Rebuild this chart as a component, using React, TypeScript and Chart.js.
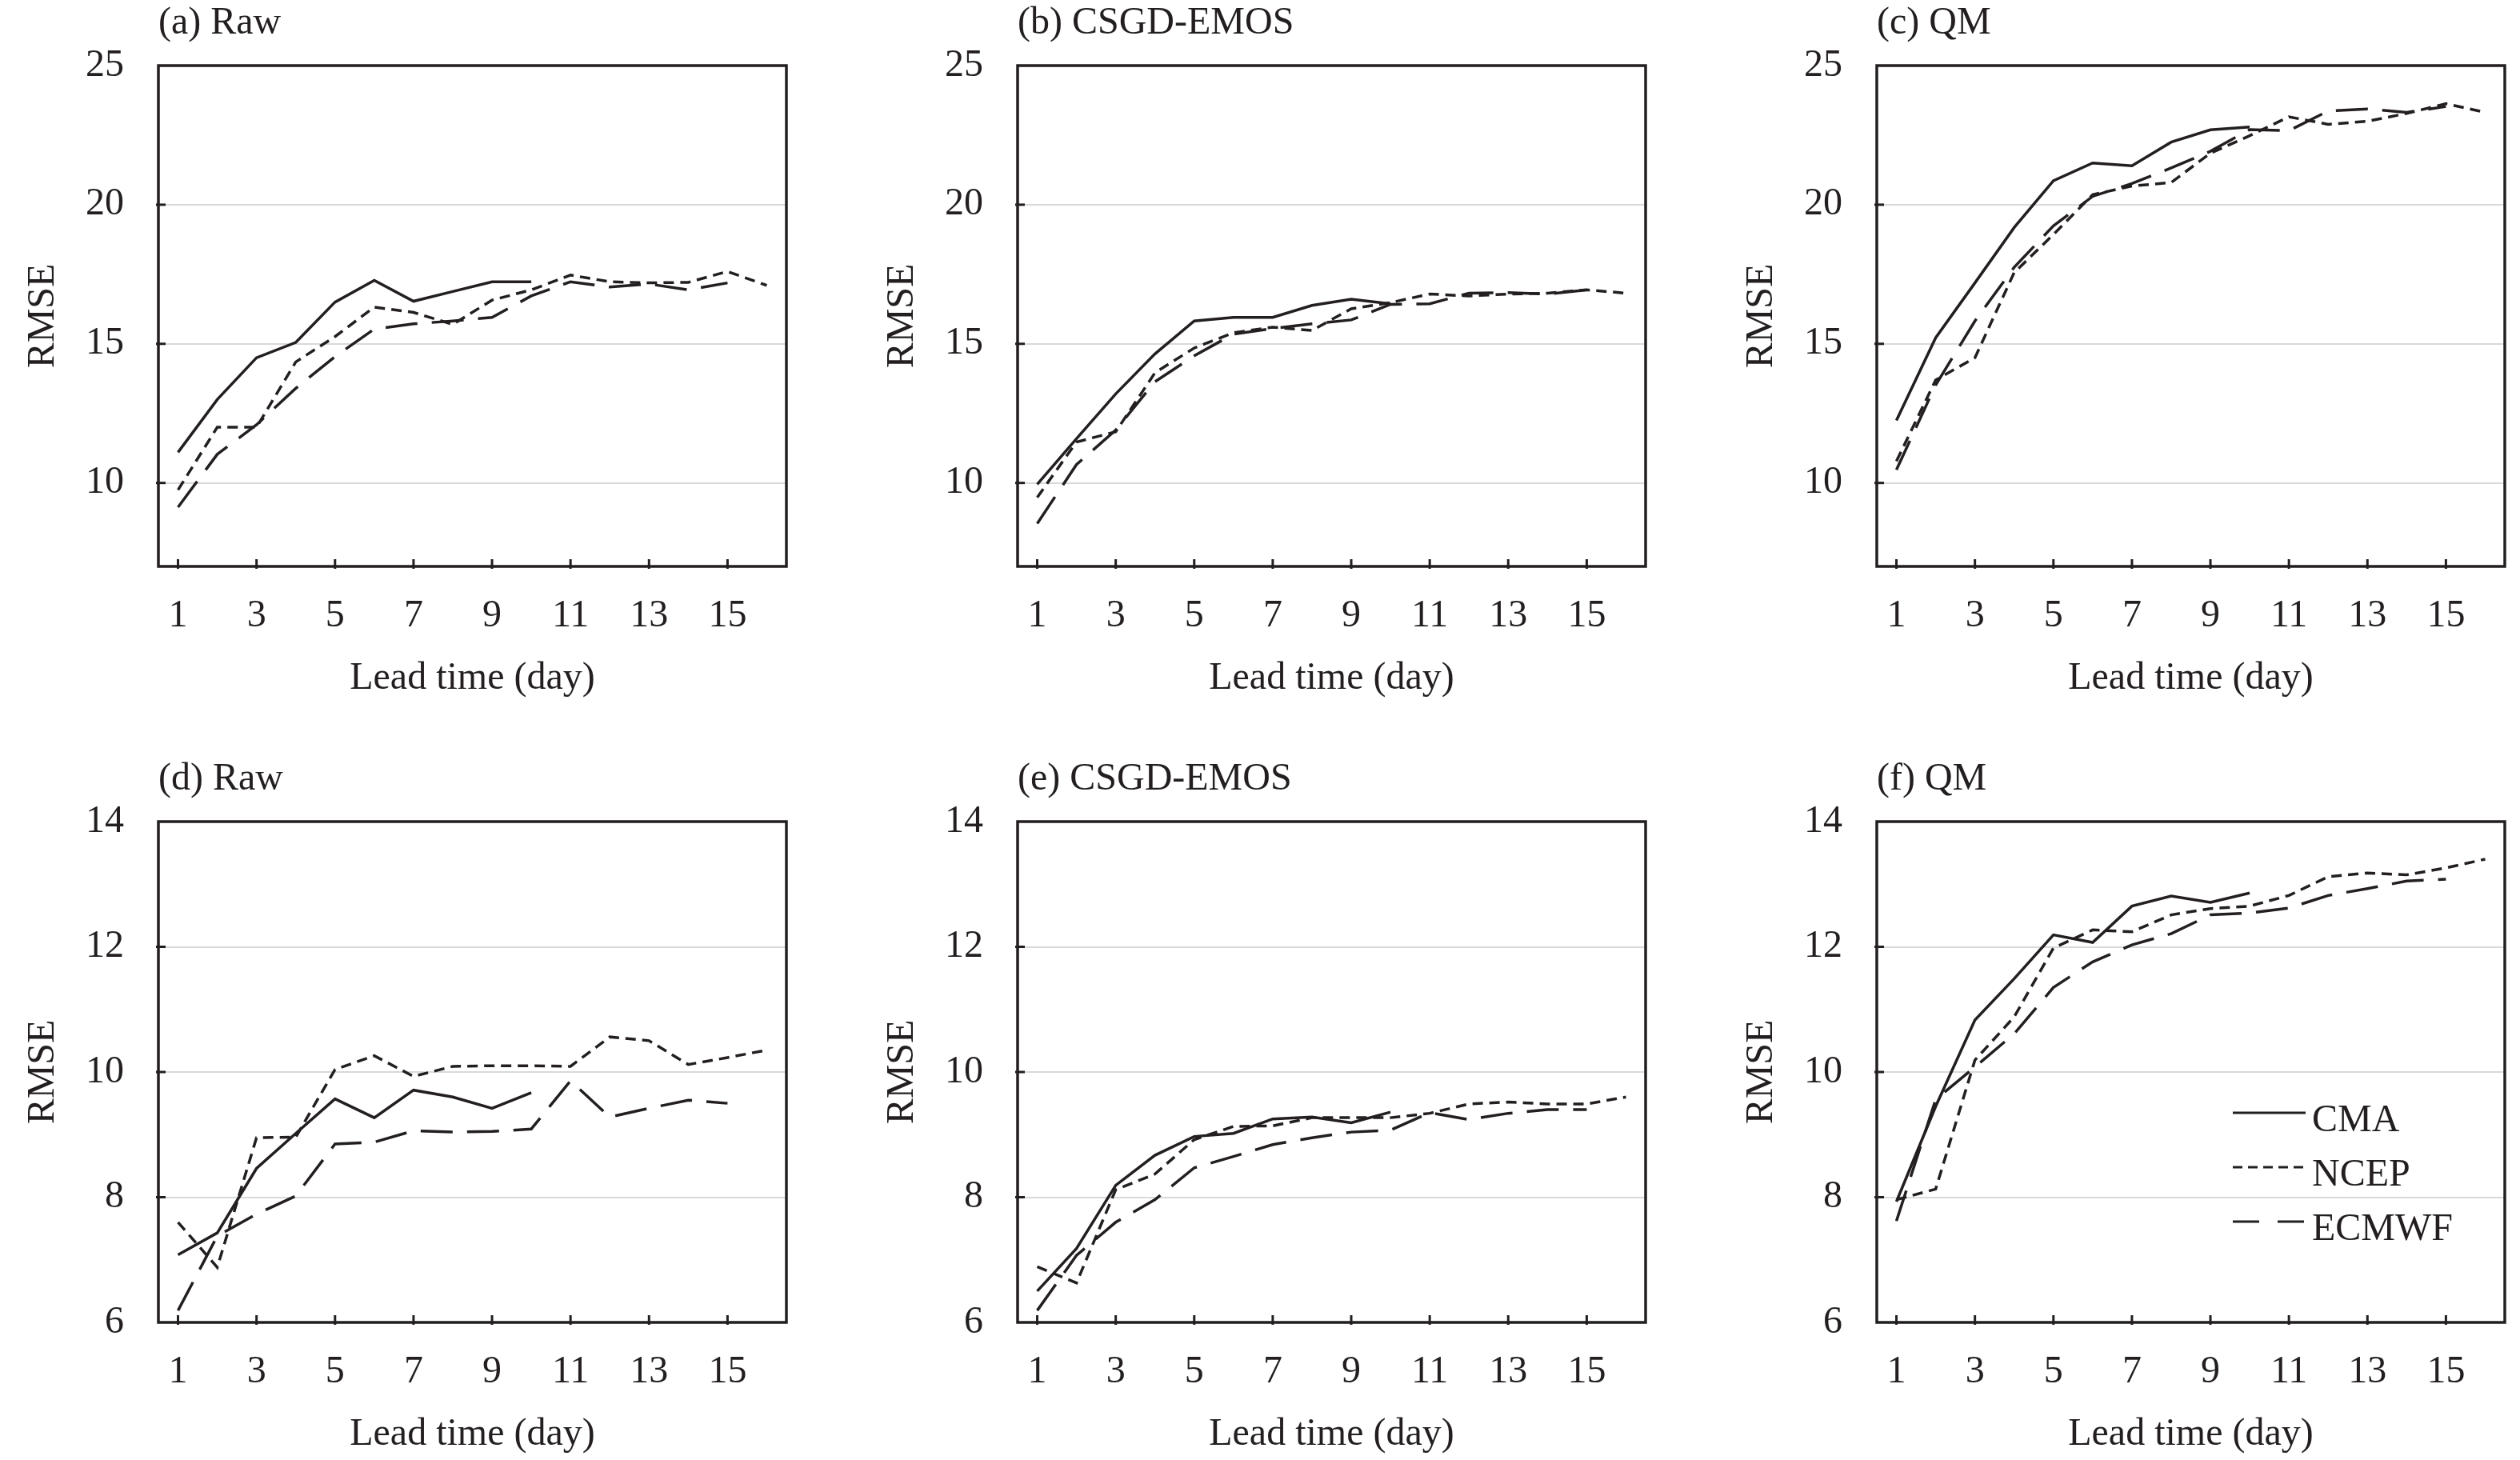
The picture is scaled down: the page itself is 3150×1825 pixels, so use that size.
import React, { useEffect, useRef } from 'react';
import { Chart, registerables } from 'chart.js';

Chart.register(...registerables);

const FONT = "'Liberation Serif', 'Times New Roman', serif";
const INK = '#231f20';
const FONT_SIZE = 48;

// ---- data ----
const DAYS = [1, 2, 3, 4, 5, 6, 7, 8, 9, 10, 11, 12, 13, 14, 15, 16];
const X_TICKS = [1, 3, 5, 7, 9, 11, 13, 15];
const Y_TICKS_TOP = [10, 15, 20, 25];
const Y_TICKS_BOTTOM = [6, 8, 10, 12, 14];
const SERIES_NAMES = ['CMA', 'NCEP', 'ECMWF'];
const PANEL_TITLES = ['(a) Raw', '(b) CSGD-EMOS', '(c) QM', '(d) Raw', '(e) CSGD-EMOS', '(f) QM'];
const X_TITLE = 'Lead time (day)';
const Y_TITLE = 'RMSE';

const A_CMA = [11.1, 13.0, 14.5, 15.05, 16.5, 17.28, 16.53, 16.88, 17.23, 17.23];
const A_NCEP = [9.75, 12.0, 12.0, 14.35, 15.26, 16.32, 16.13, 15.7, 16.57, 16.94, 17.47, 17.23, 17.19, 17.21, 17.6, 17.1];
const A_ECMWF = [9.13, 11.03, 12.09, 13.4, 14.54, 15.53, 15.72, 15.82, 15.95, 16.72, 17.23, 17.04, 17.15, 16.94, 17.19];

const B_CMA = [9.95, 11.59, 13.2, 14.64, 15.82, 15.95, 15.95, 16.38, 16.6, 16.44];
const B_NCEP = [9.48, 11.47, 11.84, 13.96, 14.85, 15.4, 15.6, 15.48, 16.26, 16.48, 16.79, 16.72, 16.79, 16.82, 16.94, 16.82];
const B_ECMWF = [8.54, 10.66, 11.9, 13.64, 14.57, 15.35, 15.55, 15.72, 15.86, 16.42, 16.44, 16.82, 16.84, 16.79, 16.94];

const C_CMA = [12.25, 15.22, 17.19, 19.18, 20.86, 21.5, 21.4, 22.25, 22.69, 22.79];
const C_NCEP = [10.78, 13.7, 14.5, 17.56, 18.93, 20.36, 20.67, 20.8, 21.85, 22.48, 23.16, 22.89, 23.0, 23.28, 23.63, 23.32];
const C_ECMWF = [10.47, 13.52, 15.82, 17.75, 19.24, 20.3, 20.76, 21.32, 21.92, 22.7, 22.66, 23.37, 23.44, 23.32, 23.53];

const D_CMA = [7.08, 7.43, 8.46, 9.02, 9.57, 9.27, 9.71, 9.6, 9.42, 9.67];
const D_NCEP = [7.6, 6.88, 8.95, 8.96, 10.04, 10.26, 9.93, 10.09, 10.1, 10.1, 10.09, 10.56, 10.5, 10.12, 10.23, 10.35];
const D_ECMWF = [6.19, 7.38, 7.73, 8.02, 8.85, 8.88, 9.06, 9.04, 9.05, 9.09, 9.86, 9.28, 9.42, 9.55, 9.5];

const E_CMA = [6.5, 7.18, 8.19, 8.67, 8.97, 9.02, 9.25, 9.28, 9.19, 9.36];
const E_NCEP = [6.89, 6.63, 8.12, 8.37, 8.92, 9.13, 9.14, 9.27, 9.27, 9.27, 9.34, 9.49, 9.52, 9.49, 9.49, 9.6];
const E_ECMWF = [6.19, 7.07, 7.6, 7.96, 8.47, 8.65, 8.84, 8.95, 9.04, 9.07, 9.35, 9.24, 9.34, 9.4, 9.4];

const F_CMA = [7.93, 9.45, 10.83, 11.49, 12.19, 12.07, 12.65, 12.81, 12.71, 12.86];
const F_NCEP = [7.96, 8.13, 10.19, 10.88, 11.98, 12.27, 12.24, 12.51, 12.61, 12.65, 12.82, 13.12, 13.18, 13.15, 13.26, 13.4];
const F_ECMWF = [7.62, 9.56, 10.08, 10.61, 11.35, 11.76, 12.03, 12.21, 12.51, 12.54, 12.62, 12.82, 12.93, 13.05, 13.08];

// ---- layout ----
const FRAME_LEFTS = [198, 1272, 2346];
const FRAME_TOPS = [82, 1027];
const FRAME_W = 785;
const FRAME_H = 626;
const Y_AXIS_W = 190;
const X_AXIS_H = 180;
const PAD_TOP = 80;
const PAD_RIGHT = 12;
const CANVAS_W = Y_AXIS_W + FRAME_W + PAD_RIGHT;
const CANVAS_H = PAD_TOP + FRAME_H + X_AXIS_H;

const DASHES: number[][] = [[], [13, 8], [40, 18]];
const LEGEND_DASHES: number[][] = [[], [12, 7], [33, 23]];

type PanelDef = {
  title: string;
  left: number;
  top: number;
  yMin: number;
  yMax: number;
  yTicks: number[];
  series: number[][];
  legend: boolean;
};

const PANELS: PanelDef[] = [
  { title: PANEL_TITLES[0], left: FRAME_LEFTS[0], top: FRAME_TOPS[0], yMin: 7, yMax: 25, yTicks: Y_TICKS_TOP, series: [A_CMA, A_NCEP, A_ECMWF], legend: false },
  { title: PANEL_TITLES[1], left: FRAME_LEFTS[1], top: FRAME_TOPS[0], yMin: 7, yMax: 25, yTicks: Y_TICKS_TOP, series: [B_CMA, B_NCEP, B_ECMWF], legend: false },
  { title: PANEL_TITLES[2], left: FRAME_LEFTS[2], top: FRAME_TOPS[0], yMin: 7, yMax: 25, yTicks: Y_TICKS_TOP, series: [C_CMA, C_NCEP, C_ECMWF], legend: false },
  { title: PANEL_TITLES[3], left: FRAME_LEFTS[0], top: FRAME_TOPS[1], yMin: 6, yMax: 14, yTicks: Y_TICKS_BOTTOM, series: [D_CMA, D_NCEP, D_ECMWF], legend: false },
  { title: PANEL_TITLES[4], left: FRAME_LEFTS[1], top: FRAME_TOPS[1], yMin: 6, yMax: 14, yTicks: Y_TICKS_BOTTOM, series: [E_CMA, E_NCEP, E_ECMWF], legend: false },
  { title: PANEL_TITLES[5], left: FRAME_LEFTS[2], top: FRAME_TOPS[1], yMin: 6, yMax: 14, yTicks: Y_TICKS_BOTTOM, series: [F_CMA, F_NCEP, F_ECMWF], legend: true },
];

const framePlugin = {
  id: 'frame',
  afterDatasetsDraw(chart: any, _args: any, opts: any) {
    const { ctx, chartArea, scales } = chart;
    const { left, top, right, bottom } = chartArea;
    const x = scales.x;
    const y = scales.y;
    ctx.save();
    ctx.setLineDash([]);
    ctx.strokeStyle = INK;
    ctx.lineWidth = 3.5;
    ctx.strokeRect(left, top, right - left, bottom - top);
    ctx.lineWidth = 3;
    x.ticks.forEach((t: any) => {
      const px = x.getPixelForValue(t.value);
      ctx.beginPath();
      ctx.moveTo(px, bottom + 3);
      ctx.lineTo(px, bottom - 9);
      ctx.stroke();
    });
    y.ticks.forEach((t: any) => {
      if (t.value <= y.min || t.value >= y.max) return;
      const py = y.getPixelForValue(t.value);
      ctx.beginPath();
      ctx.moveTo(left - 3, py);
      ctx.lineTo(left + 9, py);
      ctx.stroke();
    });
    ctx.fillStyle = INK;
    ctx.font = `${FONT_SIZE}px ${FONT}`;
    ctx.textAlign = 'left';
    ctx.textBaseline = 'alphabetic';
    ctx.fillText(opts.title, left, top - 40);
    if (opts.legend) {
      const lx0 = left + 445;
      const lx1 = left + 536;
      SERIES_NAMES.forEach((name, i) => {
        const ly = top + 364 + i * 68;
        ctx.lineWidth = 3;
        ctx.setLineDash(LEGEND_DASHES[i]);
        ctx.beginPath();
        ctx.moveTo(lx0, ly);
        ctx.lineTo(lx1, ly);
        ctx.stroke();
        ctx.setLineDash([]);
        ctx.fillText(name, lx1 + 8, ly + 23);
      });
    }
    ctx.restore();
  },
};

function Panel({ def }: { def: PanelDef }) {
  const ref = useRef<HTMLCanvasElement | null>(null);
  useEffect(() => {
    if (!ref.current) return;
    const font = { family: FONT, size: FONT_SIZE };
    const chart = new Chart(ref.current, {
      type: 'line',
      data: {
        datasets: def.series.map((vals, i) => ({
          label: SERIES_NAMES[i],
          data: vals.map((v, j) => ({ x: DAYS[j], y: v })),
          borderColor: INK,
          backgroundColor: INK,
          borderWidth: 3.5,
          borderDash: DASHES[i],
          pointRadius: 0,
          tension: 0,
          fill: false,
        })),
      },
      options: {
        responsive: false,
        animation: false,
        devicePixelRatio: 1,
        layout: { padding: { top: PAD_TOP, right: PAD_RIGHT, left: 0, bottom: 0 } },
        plugins: {
          legend: { display: false },
          tooltip: { enabled: false },
          title: { display: false },
          frame: { title: def.title, legend: def.legend },
        } as any,
        scales: {
          x: {
            type: 'linear',
            min: 0.5,
            max: 16.5,
            afterBuildTicks: (s: any) => {
              s.ticks = X_TICKS.map((v) => ({ value: v }));
            },
            afterFit: (s: any) => {
              s.height = X_AXIS_H;
            },
            grid: { display: false, drawTicks: false },
            border: { display: false },
            ticks: { font, color: INK, padding: 34, autoSkip: false, maxRotation: 0 },
            title: { display: true, text: X_TITLE, font, color: INK, padding: { top: 0, bottom: 11 } },
          },
          y: {
            type: 'linear',
            min: def.yMin,
            max: def.yMax,
            afterBuildTicks: (s: any) => {
              s.ticks = def.yTicks.map((v) => ({ value: v }));
            },
            afterFit: (s: any) => {
              s.width = Y_AXIS_W;
            },
            grid: { color: '#d9d9d9', lineWidth: 2, drawTicks: false },
            border: { display: false },
            ticks: { font, color: INK, padding: 43 },
            title: { display: true, text: Y_TITLE, font, color: INK, padding: { top: 18, bottom: 0 } },
          },
        },
      } as any,
      plugins: [framePlugin as any],
    });
    return () => chart.destroy();
  }, [def]);
  return (
    <canvas
      ref={ref}
      width={CANVAS_W}
      height={CANVAS_H}
      style={{
        position: 'absolute',
        left: def.left - Y_AXIS_W,
        top: def.top - PAD_TOP,
        width: CANVAS_W,
        height: CANVAS_H,
      }}
    />
  );
}

export default function App() {
  return (
    <div
      style={{
        position: 'absolute',
        left: 0,
        top: 0,
        width: 3150,
        height: 1825,
        overflow: 'hidden',
        background: '#ffffff',
      }}
    >
      {PANELS.map((p) => (
        <Panel key={p.title + p.top} def={p} />
      ))}
    </div>
  );
}
